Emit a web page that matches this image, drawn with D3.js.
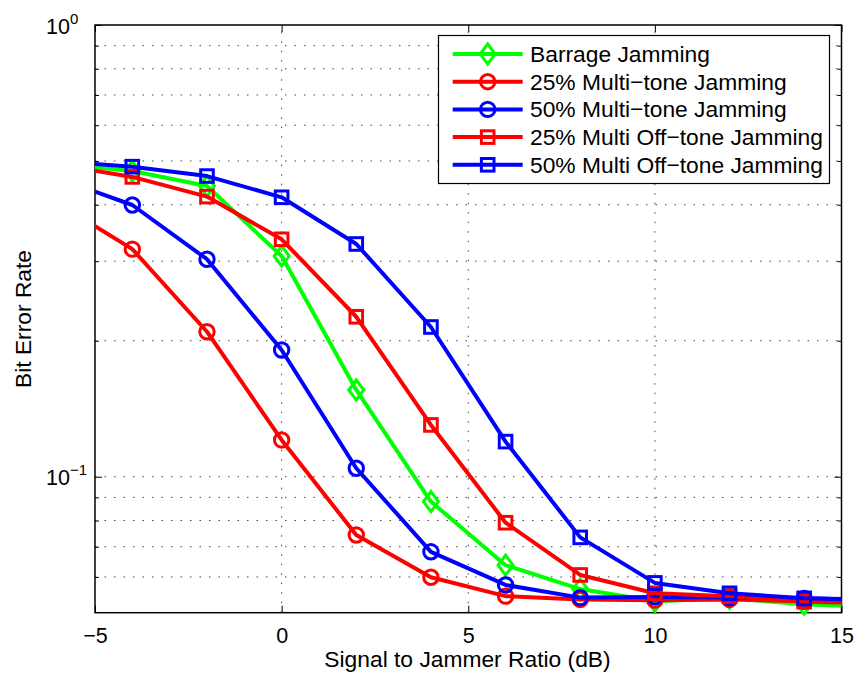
<!DOCTYPE html>
<html>
<head>
<meta charset="utf-8">
<script src="https://cdn.jsdelivr.net/npm/d3@7"></script>
<style>
  body { margin: 0; background: #fff; }
  svg { display: block; font-family: 'Liberation Sans', Arial, Helvetica, sans-serif; }
</style>
</head>
<body>
<svg id="chart" width="854" height="677"></svg>
<script>
// SNR values (dB); end points lie just outside the axis limits and get clipped
const snr = [-6, -4, -2, 0, 2, 4, 6, 8, 10, 12, 14, 16]

const barrage = [0.494, 0.475, 0.44, 0.308, 0.1556, 0.0881, 0.0637, 0.0564, 0.0530, 0.0538, 0.0522, 0.0514]
const multiTone25 = [0.4036, 0.319, 0.2094, 0.1206, 0.0743, 0.0599, 0.0544, 0.0535, 0.0533, 0.0535, 0.0530, 0.0526]
const multiTone50 = [0.4574, 0.3995, 0.303, 0.1908, 0.1044, 0.0682, 0.0576, 0.0540, 0.0542, 0.0540, 0.0538, 0.0534]
const offTone25 = [0.4906, 0.461, 0.417, 0.3354, 0.226, 0.1302, 0.0791, 0.0606, 0.0552, 0.0544, 0.0529, 0.0524]
const offTone50 = [0.4991, 0.4857, 0.463, 0.4155, 0.3275, 0.2145, 0.1196, 0.0734, 0.0582, 0.0552, 0.0538, 0.0533]

const seriesNames = ['Barrage Jamming', '25% Multi\u2212tone Jamming', '50% Multi\u2212tone Jamming',
  '25% Multi Off\u2212tone Jamming', '50% Multi Off\u2212tone Jamming']

const xTicks = [-5, 0, 5, 10, 15]
const yMajor = [0.1, 1]
const yMinor = [0.06, 0.07, 0.08, 0.09, 0.2, 0.3, 0.4, 0.5, 0.6, 0.7, 0.8, 0.9]

const series = [
  { name: seriesNames[0], values: barrage, color: '#00ff00', marker: 'diamond' },
  { name: seriesNames[1], values: multiTone25, color: '#ff0000', marker: 'circle' },
  { name: seriesNames[2], values: multiTone50, color: '#0000ff', marker: 'circle' },
  { name: seriesNames[3], values: offTone25, color: '#ff0000', marker: 'square' },
  { name: seriesNames[4], values: offTone50, color: '#0000ff', marker: 'square' }
]

const svg = d3.select('#chart')
const pLeft = 95
const pRight = 841.5
const pTop = 25
const pBottom = 612.7

const x = d3.scaleLinear().domain([-5, 15]).range([pLeft, pRight])
const y = d3.scaleLog().domain([0.05, 1]).range([pBottom, pTop])

svg.append('defs').append('clipPath').attr('id', 'plotClip')
  .append('rect')
  .attr('x', pLeft).attr('y', pTop)
  .attr('width', pRight - pLeft).attr('height', pBottom - pTop)

// grid (dotted, like matlab)
const grid = svg.append('g')
  .attr('stroke', '#444').attr('stroke-width', 1).attr('stroke-dasharray', '1.5,8')
grid.selectAll('.vg')
  .data(xTicks.filter(d => d > -5 && d < 15))
  .enter().append('line')
  .attr('x1', d => x(d)).attr('x2', d => x(d))
  .attr('y1', pBottom).attr('y2', pTop)
grid.selectAll('.hg')
  .data(yMinor.concat([0.1]))
  .enter().append('line')
  .attr('x1', pLeft).attr('x2', pRight)
  .attr('y1', d => y(d)).attr('y2', d => y(d))

// axes with inward ticks
const axisStyle = g => {
  g.select('.domain').remove()
  g.selectAll('line').attr('stroke', '#000').attr('stroke-width', 1)
}

svg.append('g')
  .attr('transform', `translate(0,${pBottom})`)
  .call(d3.axisBottom(x).tickValues(xTicks).tickSize(-7).tickPadding(10))
  .call(axisStyle)
  .selectAll('text')
  .attr('font-size', 21.5).attr('font-family', 'Liberation Sans, Arial, sans-serif')
  .attr('fill', '#000').attr('dy', '0.93em')

svg.append('g')
  .attr('transform', `translate(0,${pTop})`)
  .call(d3.axisTop(x).tickValues(xTicks).tickSize(-7).tickFormat(''))
  .call(axisStyle)

svg.append('g')
  .attr('transform', `translate(${pLeft},0)`)
  .call(d3.axisLeft(y).tickValues(yMajor).tickSize(-7).tickFormat(''))
  .call(axisStyle)
svg.append('g')
  .attr('transform', `translate(${pLeft},0)`)
  .call(d3.axisLeft(y).tickValues(yMinor).tickSize(-4).tickFormat(''))
  .call(axisStyle)
svg.append('g')
  .attr('transform', `translate(${pRight},0)`)
  .call(d3.axisRight(y).tickValues(yMajor).tickSize(-7).tickFormat(''))
  .call(axisStyle)
svg.append('g')
  .attr('transform', `translate(${pRight},0)`)
  .call(d3.axisRight(y).tickValues(yMinor).tickSize(-4).tickFormat(''))
  .call(axisStyle)

// y tick labels 10^0, 10^-1
const yLab = svg.append('g').selectAll('text')
  .data(yMajor)
  .enter().append('text')
  .attr('x', 46)
  .attr('y', d => y(d) + 8.5)
  .attr('font-size', 21.5)
yLab.append('tspan').text('10')
yLab.append('tspan')
  .attr('font-size', 15)
  .attr('dy', -10)
  .text(d => d === 1 ? '0' : '\u22121')

// plot box
svg.append('rect')
  .attr('x', pLeft).attr('y', pTop)
  .attr('width', pRight - pLeft).attr('height', pBottom - pTop)
  .attr('fill', 'none').attr('stroke', '#000').attr('stroke-width', 1.5)

// marker shapes
function drawMarker (sel, type, color) {
  if (type === 'circle') {
    sel.append('circle').attr('r', 7.2)
  } else if (type === 'square') {
    sel.append('rect').attr('x', -6.3).attr('y', -6.3).attr('width', 12.6).attr('height', 12.6)
  } else {
    sel.append('path').attr('d', 'M0,-10L7.5,0L0,10L-7.5,0Z')
  }
  sel.selectAll('circle,rect,path')
    .attr('fill', 'none').attr('stroke', color).attr('stroke-width', 3)
}

const line = d3.line()
  .x((d, i) => x(snr[i]))
  .y(d => y(d))

const plot = svg.append('g')
series.forEach(s => {
  const g = plot.append('g')
  g.append('path')
    .attr('clip-path', 'url(#plotClip)')
    .attr('d', line(s.values))
    .attr('fill', 'none')
    .attr('stroke', s.color)
    .attr('stroke-width', 4)
    .attr('stroke-linejoin', 'round')
  const pts = s.values.map((v, i) => ({ xv: snr[i], yv: v }))
    .filter(p => p.xv >= -5 && p.xv <= 15)
  g.selectAll('.m')
    .data(pts)
    .enter().append('g')
    .attr('transform', p => `translate(${x(p.xv)},${y(p.yv)})`)
    .each(function () { drawMarker(d3.select(this), s.marker, s.color) })
})

// legend
const legend = svg.append('g')
legend.append('rect')
  .attr('x', 438.5).attr('y', 35.5).attr('width', 391).attr('height', 148)
  .attr('fill', '#fff').attr('stroke', '#000').attr('stroke-width', 1.2)
series.forEach((s, i) => {
  const cy = 54 + i * 27.7
  const row = legend.append('g')
  row.append('line')
    .attr('x1', 452.7).attr('x2', 522.7).attr('y1', cy).attr('y2', cy)
    .attr('stroke', s.color).attr('stroke-width', 4)
  const m = row.append('g').attr('transform', `translate(487.7,${cy})`)
  drawMarker(m, s.marker, s.color)
  row.append('text')
    .attr('x', 530).attr('y', cy + 8)
    .attr('font-size', 22.8)
    .text(s.name)
})

// axis titles
svg.append('text')
  .attr('x', 467.5).attr('y', 667)
  .attr('text-anchor', 'middle').attr('font-size', 22.8)
  .text('Signal to Jammer Ratio (dB)')
svg.append('text')
  .attr('transform', 'translate(31,319) rotate(-90)')
  .attr('text-anchor', 'middle').attr('font-size', 22.8)
  .text('Bit Error Rate')
</script>
</body>
</html>
